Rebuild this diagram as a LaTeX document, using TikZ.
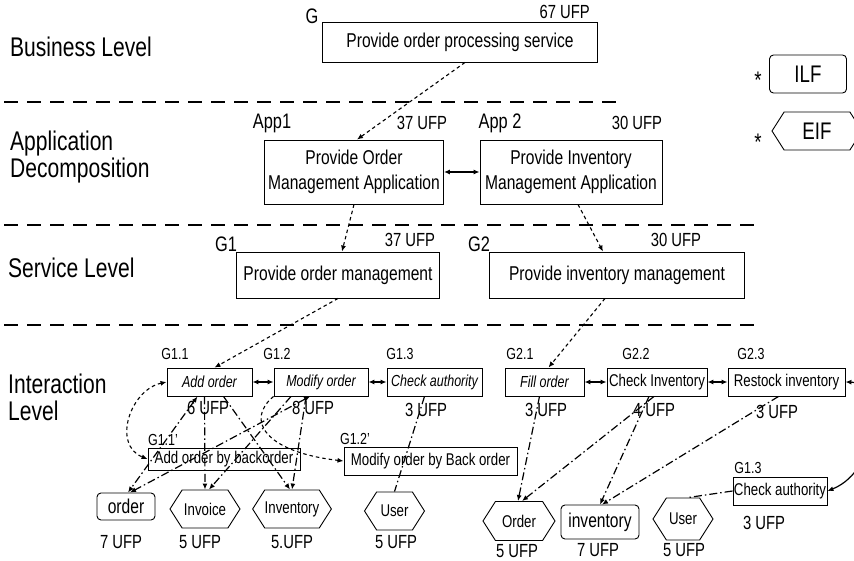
\documentclass[tikz,border=0pt]{standalone}
\usepackage{fontspec}
\setmainfont{Liberation Sans}[FakeStretch=0.78]
\usetikzlibrary{arrows.meta}
\usetikzlibrary{shapes.symbols}

\begin{document}
\begin{tikzpicture}[x=1pt,y=-1pt,>={Latex[length=6pt,width=5pt]},
  goal/.style={draw,line width=0.9pt,inner sep=0pt,align=center,font=\fontsize{20}{25}\selectfont},
  task/.style={draw,line width=0.9pt,inner sep=0pt,minimum height=28pt,font=\fontsize{17}{19}\selectfont},
  itask/.style={task,font=\fontsize{16}{19}\itshape},
  ilf/.style={draw,rounded corners=4pt,line width=0.9pt,inner sep=0pt,font=\fontsize{20}{22}\selectfont},
  eif/.style={draw,shape=signal,signal to=west and east,signal pointer angle=115,line width=0.9pt,inner sep=0pt,font=\fontsize{17}{19}\selectfont},
  tag/.style={inner sep=0pt,font=\fontsize{21}{23}\selectfont},
  ufp/.style={inner sep=0pt,font=\fontsize{19}{21}\selectfont},
  stag/.style={inner sep=0pt,font=\fontsize{16}{18}\selectfont},
  level/.style={inner sep=0pt,anchor=west,align=left,font=\fontsize{27}{27}\selectfont},
  sep/.style={line width=2.5pt,dash pattern=on 14pt off 9pt},
  decomp/.style={line width=1.1pt,dash pattern=on 3.5pt off 3pt,->},
  access/.style={line width=1.2pt,dash pattern=on 8pt off 3pt on 1.5pt off 3pt},
  assoc/.style={line width=1.2pt,<->}]
  \useasboundingbox (0,0) rectangle (854,561);
  \clip (0,0) rectangle (854,561);

  % levels
  \node[level] (lbus) at (10,47) {Business Level};
  \node[level] (lapp) at (10,157) {Application\\Decomposition};
  \node[level] (lser) at (8,268) {Service Level};
  \node[level] (lint) at (8,397) {Interaction\\Level};
  \draw[sep] (4,102) -- (625,102);
  \draw[sep] (4,225) -- (755,225);
  \draw[sep] (4,325) -- (755,325);

  % legend
  \node[inner sep=0pt,font=\fontsize{24}{24}\selectfont] (star1) at (758,80) {*};
  \node[ilf,minimum width=77pt,minimum height=38pt,font=\fontsize{24}{26}\selectfont] (ilfkey) at (808,74) {ILF};
  \node[inner sep=0pt,font=\fontsize{24}{24}\selectfont] (star2) at (758,142) {*};
  \node[eif,minimum width=90pt,minimum height=38pt,font=\fontsize{24}{26}\selectfont] (eifkey) at (817,131) {EIF};

  % business / application / service goals
  \node[goal,minimum width=275pt,minimum height=40pt] (G) at (460,42) {Provide order processing service};
  \node[tag] (Gname) at (312,16) {G};
  \node[ufp,anchor=east] (Gufp) at (590,12) {67 UFP};

  \node[goal,minimum width=179pt,minimum height=64pt] (app1) at (354,172) {Provide Order\\Management Application};
  \node[goal,minimum width=182pt,minimum height=64pt] (app2) at (571,172) {Provide Inventory\\Management Application};
  \node[tag] (app1name) at (272,123) {App1};
  \node[ufp] (app1ufp) at (422,123) {37 UFP};
  \node[tag] (app2name) at (500,123) {App 2};
  \node[ufp] (app2ufp) at (637,123) {30 UFP};

  \node[goal,minimum width=203pt,minimum height=46pt] (g1) at (338,275) {Provide order management};
  \node[goal,minimum width=255pt,minimum height=46pt] (g2) at (617,275) {Provide inventory management};
  \node[tag] (g1name) at (226,244) {G1};
  \node[ufp] (g1ufp) at (410,240) {37 UFP};
  \node[tag] (g2name) at (479,244) {G2};
  \node[ufp] (g2ufp) at (676,240) {30 UFP};

  \draw[decomp] ([xshift=5pt]G.south) -- ([xshift=3pt]app1.north);
  \draw[assoc] (app1) -- (app2);
  \draw[decomp] (app1.south) -- ([xshift=4pt]g1.north);
  \draw[decomp] ([xshift=7pt]app2.south) -- ([xshift=-14pt]g2.north);

  % interaction level
  \node[itask,minimum width=85pt] (addo) at (209.5,382) {Add order};
  \node[itask,minimum width=94pt] (modo) at (321,382) {Modify order};
  \node[itask,minimum width=95pt] (chka) at (434.5,382) {Check authority};
  \node[itask,minimum width=79pt] (fill) at (544.5,382) {Fill order};
  \node[task,minimum width=100pt] (chki) at (657,382) {Check Inventory};
  \node[task,minimum width=117pt] (rest) at (786.5,382) {Restock inventory};
  \node[stag] at (175,354) {G1.1};
  \node[stag] at (277,354) {G1.2};
  \node[stag] at (400,354) {G1.3};
  \node[stag] at (520,354) {G2.1};
  \node[stag] at (636,354) {G2.2};
  \node[stag] at (751,354) {G2.3};
  \node[ufp] at (208,408) {6 UFP};
  \node[ufp] at (313,408) {8 UFP};
  \node[ufp] at (426,410) {3 UFP};
  \node[ufp] at (546,410) {3 UFP};
  \node[ufp] at (654,410) {4 UFP};
  \node[ufp] at (777,412) {3 UFP};

  \node[task,minimum width=152pt,minimum height=22pt] (bko) at (224,459) {Add order by backorder};
  \node[task,minimum width=173pt] (mbo) at (430.5,461) {Modify order by Back order};
  \node[stag] at (163,440) {G1.1'};
  \node[stag] at (355,439) {G1.2'};

  \node[task,minimum width=94pt] (chka2) at (780,491) {Check authority};
  \node[stag] at (748,468) {G1.3};
  \node[ufp] at (764,523) {3 UFP};

  % data
  \node[ilf,minimum width=58pt,minimum height=27pt] (order1) at (126,506.5) {order};
  \node[eif,minimum width=70pt,minimum height=38pt] (invoice) at (205,509) {Invoice};
  \node[eif,minimum width=75pt,minimum height=38pt] (inv1) at (292,509) {Inventory};
  \node[eif,minimum width=60pt,minimum height=38pt] (user1) at (394.5,511) {User};
  \node[eif,minimum width=72pt,minimum height=39pt] (order2) at (519,521) {Order};
  \node[ilf,minimum width=78pt,minimum height=34pt] (inv2) at (600,522) {inventory};
  \node[eif,minimum width=60pt,minimum height=42pt] (user2) at (683,519) {User};
  \node[ufp] at (121,542) {7 UFP};
  \node[ufp] at (200,542) {5 UFP};
  \node[ufp] at (292,542) {5.UFP};
  \node[ufp] at (396,542) {5 UFP};
  \node[ufp] at (517,551.5) {5 UFP};
  \node[ufp] at (598,550) {7 UFP};
  \node[ufp] at (684,550) {5 UFP};

  \draw[decomp] (g1.south) -- ([xshift=5pt]addo.north);
  \draw[decomp] ([xshift=-12pt]g2.south) -- ([xshift=4pt]fill.north);
  \draw[assoc] (addo) -- (modo);
  \draw[assoc] (modo) -- (chka);
  \draw[assoc] (fill) -- (chki);
  \draw[assoc] (chki) -- (rest);
  \draw[assoc] (rest.east) .. controls (885,383) and (880,470) .. (chka2.east);
  \draw[decomp,<->] (addo.west) .. controls (130,390) and (112,445) .. (bko.west);
  \draw[decomp] (modo.south west) .. controls (245,420) and (265,452) .. (mbo.west);

  \draw[access,<->] ([xshift=-12pt]addo.south) -- ([xshift=2pt]order1.north);
  \draw[access,<->] ([xshift=-11pt]modo.south) -- ([xshift=4pt]order1.north);
  \draw[access,->] ([xshift=-5pt]addo.south) -- (invoice.north);
  \draw[access,->] ([xshift=14pt]addo.south) -- ([xshift=-2pt]inv1.north);
  \draw[access,->] ([xshift=-30pt]modo.south) -- ([xshift=4pt]invoice.north);
  \draw[access,->] ([xshift=-15pt]modo.south) -- (inv1.north);
  \draw[access] ([xshift=-10pt]chka.south) -- (user1.north);
  \draw[access,->] ([xshift=-5pt]fill.south) -- ([xshift=-1pt]order2.north);
  \draw[access,->] ([xshift=-3pt]chki.south) -- ([xshift=3pt]order2.north);
  \draw[access,->] ([xshift=-8pt]chki.south) -- (inv2.north);
  \draw[access,->] ([xshift=-8pt]rest.south) -- ([xshift=2pt]inv2.north);
  \draw[access] (chka2.west) -- ([xshift=5pt]user2.north);
\end{tikzpicture}
\end{document}
